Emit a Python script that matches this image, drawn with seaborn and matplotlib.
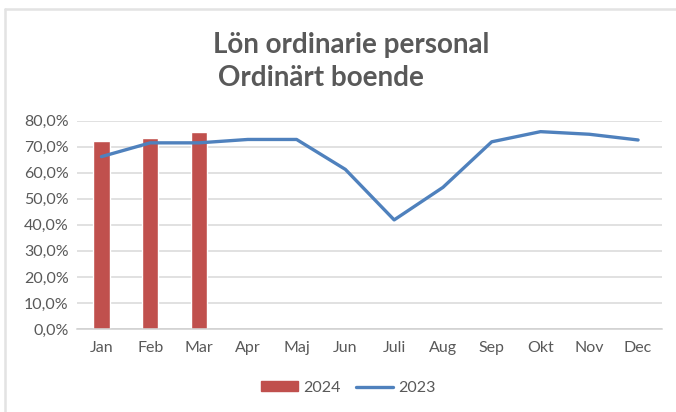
import seaborn as sns
import matplotlib.pyplot as plt
import numpy as np
import pandas as pd
from matplotlib.lines import Line2D
from matplotlib.patches import Patch
from matplotlib.ticker import FuncFormatter, MultipleLocator

months = ['Jan', 'Feb', 'Mar', 'Apr', 'Maj', 'Jun',
          'Juli', 'Aug', 'Sep', 'Okt', 'Nov', 'Dec']
values_2024 = [0.723, 0.735, 0.755, np.nan, np.nan, np.nan,
               np.nan, np.nan, np.nan, np.nan, np.nan, np.nan]
values_2023 = [0.662, 0.715, 0.715, 0.728, 0.728, 0.613,
               0.419, 0.544, 0.719, 0.758, 0.748, 0.726]
title_lines = ['Lön ordinarie personal', 'Ordinärt boende']

RED = '#C0504D'
BLUE = '#4F81BD'
GREY_TEXT = '#595959'

sns.set_style('white')
plt.rcParams['font.family'] = ['Lato', 'DejaVu Sans']

df = pd.DataFrame({'month': months, 'v2024': values_2024, 'v2023': values_2023})
df['pos'] = np.arange(len(months))

fig = plt.figure(figsize=(6.76, 4.12), dpi=100)
ax = fig.add_axes([0.114, 0.2015, 0.866, 0.5055])

sns.barplot(data=df, x='month', y='v2024', order=months, color=RED,
            width=0.33, saturation=1, ax=ax, zorder=2)
sns.lineplot(data=df, x='pos', y='v2023', color=BLUE, linewidth=2.4,
             ax=ax, zorder=3, solid_joinstyle='round', solid_capstyle='round')

ax.set_xlim(-0.5, len(months) - 0.5)
ax.set_ylim(0, 0.8)
ax.yaxis.set_major_locator(MultipleLocator(0.1))
ax.yaxis.set_major_formatter(FuncFormatter(lambda v, _: f'{v * 100:.1f}%'.replace('.', ',')))
ax.set_xticks(range(len(months)))
ax.set_xticklabels(months)
ax.set_xlabel('')
ax.set_ylabel('')
ax.grid(axis='y', color='#D9D9D9', linewidth=1.1, zorder=0)
ax.set_axisbelow(True)
for side in ['top', 'right', 'left']:
    ax.spines[side].set_visible(False)
ax.spines['bottom'].set_color('#D0D0D0')
ax.spines['bottom'].set_linewidth(1.1)
ax.tick_params(axis='both', length=0, labelsize=11.5, labelcolor=GREY_TEXT)
ax.tick_params(axis='x', pad=9)
ax.tick_params(axis='y', pad=6)

fig.text(213 / 676, 1 - 45 / 412, title_lines[0], fontsize=20, fontweight='bold',
         color=GREY_TEXT, ha='left', va='center')
fig.text(218 / 676, 1 - 78 / 412, title_lines[1], fontsize=20, fontweight='bold',
         color=GREY_TEXT, ha='left', va='center')

handles = [Patch(facecolor=RED, edgecolor=RED),
           Line2D([0], [0], color=BLUE, linewidth=2.4, solid_capstyle='round')]
fig.legend(handles, ['2024', '2023'], loc='center', bbox_to_anchor=(0.515, 1 - 388 / 412),
           ncol=2, frameon=False, fontsize=11.5, labelcolor=GREY_TEXT,
           handlelength=2.3, handleheight=0.6, handletextpad=0.3, columnspacing=1.0)

# thin frame around the chart (top and left edges)
fig.add_artist(Line2D([5 / 676, 1], [1 - 9 / 412, 1 - 9 / 412], transform=fig.transFigure,
                      color='#E3E3E3', linewidth=1.8))
fig.add_artist(Line2D([5 / 676, 5 / 676], [0, 1 - 9 / 412], transform=fig.transFigure,
                      color='#E3E3E3', linewidth=1.8))

fig.savefig('out.png', dpi=100, facecolor='white')
